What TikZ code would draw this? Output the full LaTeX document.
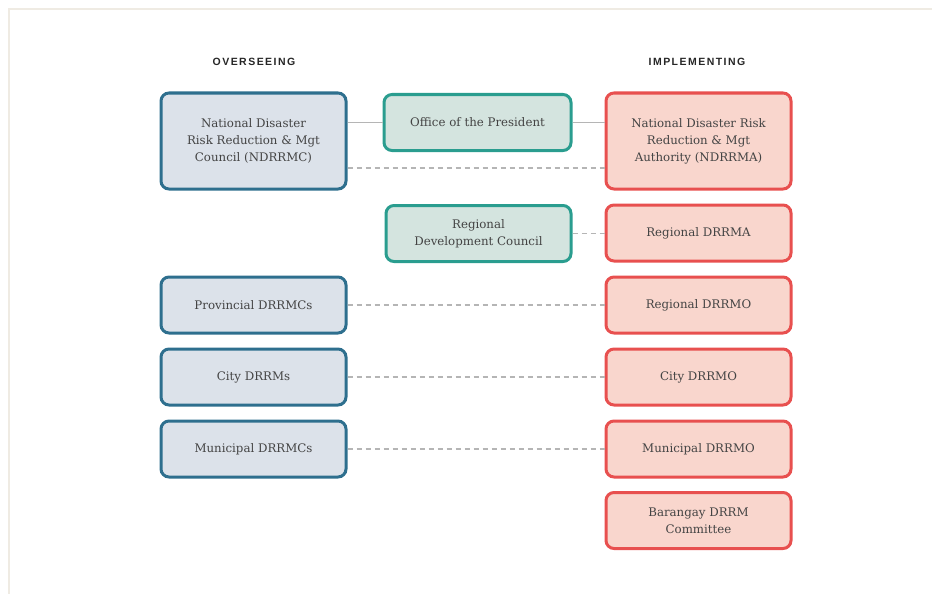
\documentclass[tikz,border=0pt]{standalone}
\usepackage{fontspec}
\setmainfont{DejaVu Serif}
\newfontfamily\headfont[LetterSpace=14]{Liberation Sans}
\usetikzlibrary{positioning}
\definecolor{bluedge}{HTML}{2E6F8E}
\definecolor{bluefill}{HTML}{DCE2EA}
\definecolor{tealedge}{HTML}{2A9D8F}
\definecolor{tealfill}{HTML}{D4E4DF}
\definecolor{rededge}{HTML}{E8504F}
\definecolor{redfill}{HTML}{F9D6CD}
\definecolor{linkgray}{HTML}{B5B5B5}
\definecolor{framecol}{HTML}{EFEBE3}
\definecolor{txtcol}{HTML}{444444}
\tikzset{x=1pt, y=-1pt,
    every node/.style={align=center, text=txtcol, font=\fontsize{11.8}{17}\selectfont},
    unit/.style={rounded corners=8pt, line width=3pt, minimum width=185pt, minimum height=56pt, inner sep=2pt},
    oversee/.style={unit, draw=bluedge, fill=bluefill},
    govern/.style={unit, draw=tealedge, fill=tealfill},
    implement/.style={unit, draw=rededge, fill=redfill},
    heading/.style={font=\headfont\bfseries\fontsize{10.5}{11}\selectfont, text=black!85},
    link/.style={draw=linkgray, line width=1.8pt},
    dashlink/.style={link, dash pattern=on 5pt off 4pt},
    }
\begin{document}
\begin{tikzpicture}
	\useasboundingbox (0,0) rectangle (932,594);
	% frame
	\draw[framecol, line width=2pt] (9,594) -- (9,9) -- (932,9);
	% headings
	\node[heading] (overseeing) at (254,62) {OVERSEEING};
	\node[heading] (implementing) at (697,62) {IMPLEMENTING};
	% overseeing column
	\node[oversee, minimum height=96pt] (ndrrmc) at (253.5,141) {National Disaster\\Risk Reduction \& Mgt\\Council (NDRRMC)};
	\node[oversee] (provincial) at (253.5,305) {Provincial DRRMCs};
	\node[oversee] (city) at (253.5,377) {City DRRMs};
	\node[oversee] (municipal) at (253.5,449) {Municipal DRRMCs};
	% middle column
	\node[govern, minimum width=187pt] (president) at (477.5,122.5) {Office of the President};
	\node[govern] (rdc) at (478.5,233.5) {Regional\\Development Council};
	% implementing column
	\node[implement, minimum height=96pt] (ndrrma) at (698.5,141) {National Disaster Risk\\Reduction \& Mgt\\Authority (NDRRMA)};
	\node[implement] (rdrrma) at (698.5,233) {Regional DRRMA};
	\node[implement] (rdrrmo) at (698.5,305) {Regional DRRMO};
	\node[implement] (citydrrmo) at (698.5,377) {City DRRMO};
	\node[implement] (munidrrmo) at (698.5,449) {Municipal DRRMO};
	\node[implement] (barangay) at (698.5,520.5) {Barangay DRRM\\Committee};
	% connectors
	\draw[link] (ndrrmc.east |- president.west) -- (president.west);
	\draw[link] (president.east) -- (ndrrma.west |- president.east);
	\draw[dashlink] ([yshift=-27pt]ndrrmc.east) -- ([yshift=-27pt]ndrrma.west);
	\draw[dashlink] (rdc.east) -- (rdrrma.west |- rdc.east);
	\draw[dashlink] (provincial.east) -- (rdrrmo.west);
	\draw[dashlink] (city.east) -- (citydrrmo.west);
	\draw[dashlink] (municipal.east) -- (munidrrmo.west);
\end{tikzpicture}
\end{document}
